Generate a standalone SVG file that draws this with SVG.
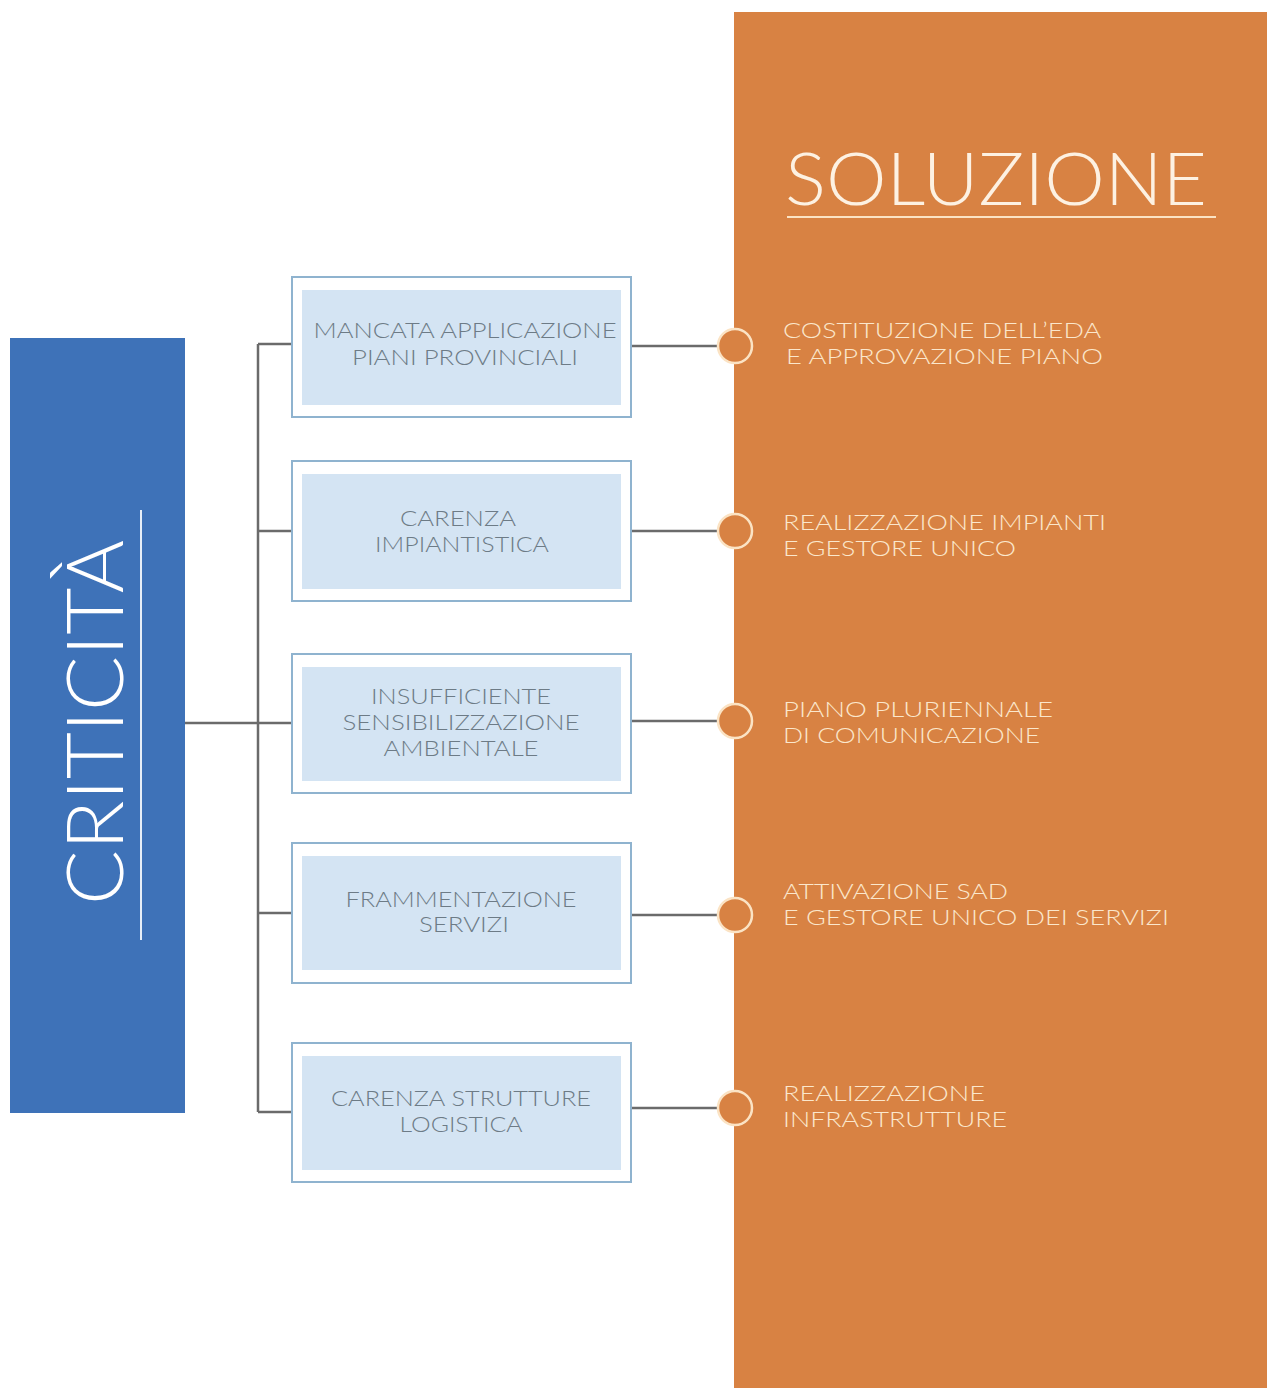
<svg xmlns="http://www.w3.org/2000/svg" width="1267" height="1388" viewBox="0 0 1267 1388">
<style>
.outer{fill:#ffffff;stroke:#8fb3cf;stroke-width:2}
.inner{fill:#d4e4f3}
.bt{font-family:Lato,"Liberation Sans",sans-serif;font-weight:300;font-size:21px;fill:#6d7b86;text-anchor:middle}
.rt{font-family:Lato,"Liberation Sans",sans-serif;font-weight:300;font-size:22px;fill:#fbe7cc}
.conn{stroke:#6b6b6b;stroke-width:2.5;fill:none}
.dot{fill:#d88243;stroke:#fbe3c4;stroke-width:2.5}
</style>
<rect x="734" y="12" width="533" height="1376" fill="#d88243"/>
<g id="soluzione">
<text x="785" y="205" font-family="Lato,'Liberation Sans',sans-serif" font-weight="300" font-size="73" fill="#fdf1e2" textLength="422" lengthAdjust="spacingAndGlyphs">SOLUZIONE</text>
<line x1="787" y1="217" x2="1216" y2="217" stroke="#fbe3c4" stroke-width="2"/>
</g>
<g id="criticita">
<rect x="10" y="338" width="175" height="775" fill="#3e72b8"/>
<text transform="translate(123 905) rotate(-90)" font-family="Lato,'Liberation Sans',sans-serif" font-weight="300" font-size="79" fill="#ffffff" textLength="365" lengthAdjust="spacingAndGlyphs">CRITICITÀ</text>
<line x1="141" y1="510" x2="141" y2="940" stroke="#e6eef8" stroke-width="2"/>
</g>
<g id="connectors">
<path class="conn" d="M185 723 H258 M258 344 V1112 M258 344 H292 M258 531 H292 M258 723 H292 M258 913 H292 M258 1112 H292"/>
<path class="conn" d="M631 346 H718 M631 531 H718 M631 721 H718 M631 915 H718 M631 1108 H718"/>
</g>
<g id="box1">
<rect class="outer" x="292" y="277" width="339" height="140"/>
<rect class="inner" x="302" y="290" width="319" height="115"/>
<text class="bt" x="465" y="338" textLength="303" lengthAdjust="spacingAndGlyphs">MANCATA APPLICAZIONE</text>
<text class="bt" x="465" y="365" textLength="226" lengthAdjust="spacingAndGlyphs">PIANI PROVINCIALI</text>
</g>
<g id="box2">
<rect class="outer" x="292" y="461" width="339" height="140"/>
<rect class="inner" x="302" y="474" width="319" height="115"/>
<text class="bt" x="458" y="526" textLength="116" lengthAdjust="spacingAndGlyphs">CARENZA</text>
<text class="bt" x="462" y="552" textLength="174" lengthAdjust="spacingAndGlyphs">IMPIANTISTICA</text>
</g>
<g id="box3">
<rect class="outer" x="292" y="654" width="339" height="139"/>
<rect class="inner" x="302" y="667" width="319" height="114"/>
<text class="bt" x="461" y="704" textLength="180" lengthAdjust="spacingAndGlyphs">INSUFFICIENTE</text>
<text class="bt" x="461" y="730" textLength="237" lengthAdjust="spacingAndGlyphs">SENSIBILIZZAZIONE</text>
<text class="bt" x="461" y="756" textLength="155" lengthAdjust="spacingAndGlyphs">AMBIENTALE</text>
</g>
<g id="box4">
<rect class="outer" x="292" y="843" width="339" height="140"/>
<rect class="inner" x="302" y="856" width="319" height="114"/>
<text class="bt" x="461" y="907" textLength="231" lengthAdjust="spacingAndGlyphs">FRAMMENTAZIONE</text>
<text class="bt" x="464" y="932" textLength="90" lengthAdjust="spacingAndGlyphs">SERVIZI</text>
</g>
<g id="box5">
<rect class="outer" x="292" y="1043" width="339" height="139"/>
<rect class="inner" x="302" y="1056" width="319" height="114"/>
<text class="bt" x="461" y="1106" textLength="260" lengthAdjust="spacingAndGlyphs">CARENZA STRUTTURE</text>
<text class="bt" x="461" y="1132" textLength="123" lengthAdjust="spacingAndGlyphs">LOGISTICA</text>
</g>
<g id="sol1">
<circle class="dot" cx="735" cy="346" r="17"/>
<text class="rt" x="783" y="338" textLength="318" lengthAdjust="spacingAndGlyphs">COSTITUZIONE DELL’EDA</text>
<text class="rt" x="786" y="364" textLength="317" lengthAdjust="spacingAndGlyphs">E APPROVAZIONE PIANO</text>
</g>
<g id="sol2">
<circle class="dot" cx="735" cy="531" r="17"/>
<text class="rt" x="783" y="530" textLength="323" lengthAdjust="spacingAndGlyphs">REALIZZAZIONE IMPIANTI</text>
<text class="rt" x="783" y="556" textLength="233" lengthAdjust="spacingAndGlyphs">E GESTORE UNICO</text>
</g>
<g id="sol3">
<circle class="dot" cx="735" cy="721" r="17"/>
<text class="rt" x="783" y="717" textLength="270" lengthAdjust="spacingAndGlyphs">PIANO PLURIENNALE</text>
<text class="rt" x="783" y="743" textLength="257" lengthAdjust="spacingAndGlyphs">DI COMUNICAZIONE</text>
</g>
<g id="sol4">
<circle class="dot" cx="735" cy="915" r="17"/>
<text class="rt" x="783" y="899" textLength="225" lengthAdjust="spacingAndGlyphs">ATTIVAZIONE SAD</text>
<text class="rt" x="783" y="925" textLength="386" lengthAdjust="spacingAndGlyphs">E GESTORE UNICO DEI SERVIZI</text>
</g>
<g id="sol5">
<circle class="dot" cx="735" cy="1108" r="17"/>
<text class="rt" x="783" y="1101" textLength="202" lengthAdjust="spacingAndGlyphs">REALIZZAZIONE</text>
<text class="rt" x="783" y="1127" textLength="224" lengthAdjust="spacingAndGlyphs">INFRASTRUTTURE</text>
</g>
</svg>
